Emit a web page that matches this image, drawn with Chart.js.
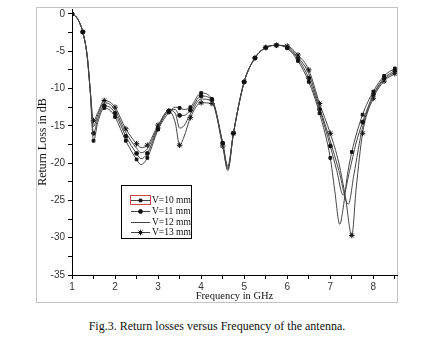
<!DOCTYPE html>
<html>
<head>
<meta charset="utf-8">
<script src="https://cdn.jsdelivr.net/npm/chart.js@4.4.1/dist/chart.umd.min.js"></script>
<style>
  html, body { margin: 0; padding: 0; background: #fff; }
  body { width: 434px; height: 350px; position: relative; overflow: hidden; }
  #frame { position: absolute; left: 36px; top: 7px; width: 360px; height: 294px; border: 1px solid #c4c4c4; }
  #wrap { position: absolute; left: 0; top: 0; width: 434px; height: 304px; }
  #caption { position: absolute; left: 0; top: 319px; width: 434px; text-align: center;
             font: 12px "Liberation Serif", "DejaVu Serif", serif; color: #111; }
</style>
</head>
<body>
<div id="frame"></div>
<div id="wrap"><canvas id="rl-canvas"></canvas></div>
<div id="caption">Fig.3. Return losses versus Frequency of the antenna.</div>
<script>
// Frequency points (GHz) shared by all four sweeps up to 6.75 GHz
const freqHead = [1.0, 1.1, 1.2, 1.25, 1.35, 1.42, 1.5, 1.6, 1.75, 1.9, 2.0, 2.25, 2.5, 2.6, 2.75,
    3.0, 3.25, 3.4, 3.5, 3.6, 3.75, 4.0, 4.25, 4.5, 4.62, 4.75, 5.0, 5.25, 5.5, 5.75, 6.0, 6.25, 6.5, 6.75];

// Return loss (dB) on freqHead
const lossV10Head = [0, -0.4, -1.5, -2.4, -5.5, -10, -17.0, -14.5, -12.6, -13.0, -13.8, -17.0, -19.5, -20.2, -19.3,
    -15.5, -13.2, -12.5, -12.6, -12.8, -12.5, -10.6, -11.4, -17.3, -20.4, -16.0, -9.1, -5.9, -4.5, -4.2, -4.6, -6.3, -9.1, -13.3];
const lossV11Head = [0, -0.4, -1.5, -2.4, -5.5, -10, -16.0, -14.0, -12.3, -12.6, -13.3, -16.4, -18.7, -19.4, -18.7,
    -15.3, -13.0, -12.8, -13.6, -13.6, -12.9, -11.0, -11.5, -17.3, -20.6, -16.0, -9.1, -5.9, -4.5, -4.2, -4.5, -6.0, -8.6, -12.8];
const lossV12Head = [0, -0.4, -1.5, -2.4, -5.5, -10, -15.1, -13.5, -11.9, -12.2, -12.9, -15.9, -18.0, -18.6, -18.1,
    -15.1, -12.9, -13.3, -15.3, -15.0, -13.4, -11.4, -11.7, -17.5, -20.8, -16.0, -9.1, -5.9, -4.5, -4.2, -4.4, -5.8, -8.0, -12.5];
const lossV13Head = [0, -0.4, -1.5, -2.4, -5.5, -10, -14.3, -13.2, -11.6, -11.9, -12.5, -15.4, -17.4, -17.9, -17.6,
    -14.9, -13.0, -14.6, -17.6, -16.5, -13.9, -11.9, -12.0, -17.7, -21.0, -16.0, -9.1, -5.9, -4.5, -4.2, -4.3, -5.5, -7.5, -12.0];

// Upper resonance, each sweep has its own notch
const freqV10Tail = [7.0, 7.1, 7.22, 7.3, 7.4, 7.5, 7.75, 8.0, 8.25, 8.5];
const lossV10Tail = [-19.3, -23.5, -28.2, -26.0, -21.5, -18.5, -13.5, -10.4, -8.3, -7.3];
const freqV11Tail = [7.0, 7.15, 7.3, 7.45, 7.6, 7.75, 8.0, 8.25, 8.5];
const lossV11Tail = [-17.7, -21.0, -24.3, -21.0, -17.3, -14.5, -10.8, -8.6, -7.6];
const freqV12Tail = [7.0, 7.2, 7.42, 7.55, 7.75, 8.0, 8.25, 8.5];
const lossV12Tail = [-17.0, -21.0, -25.5, -21.5, -15.2, -11.0, -8.8, -7.8];
const freqV13Tail = [7.0, 7.2, 7.35, 7.5, 7.6, 7.75, 8.0, 8.25, 8.5];
const lossV13Tail = [-16.0, -20.0, -24.5, -29.7, -23.5, -16.0, -11.3, -9.0, -8.0];

const seriesNames = ['V=10 mm', 'V=11 mm', 'V=12 mm', 'V=13 mm'];
const seriesMarkers = ['rect', 'circle', false, 'star'];

const xTicks = [1, 1.5, 2, 2.5, 3, 3.5, 4, 4.5, 5, 5.5, 6, 6.5, 7, 7.5, 8, 8.5];
const yTicks = [-35, -32.5, -30, -27.5, -25, -22.5, -20, -17.5, -15, -12.5, -10, -7.5, -5, -2.5, 0];

function toPoints(fa, la, fb, lb) {
    const pts = [];
    fa.forEach((f, i) => pts.push({ x: f, y: la[i] }));
    fb.forEach((f, i) => pts.push({ x: f, y: lb[i] }));
    return pts;
}

const seriesData = [
    toPoints(freqHead, lossV10Head, freqV10Tail, lossV10Tail),
    toPoints(freqHead, lossV11Head, freqV11Tail, lossV11Tail),
    toPoints(freqHead, lossV12Head, freqV12Tail, lossV12Tail),
    toPoints(freqHead, lossV13Head, freqV13Tail, lossV13Tail),
];

function markerSize(style) {
    return style === 'star' ? 2.8 : 1.9;
}

// markers only every 0.25 GHz, like the plotted sweep
function markerRadius(style) {
    return ctx => {
        if (!style || !ctx.raw) return 0;
        const q = ctx.raw.x * 4;
        return Math.abs(q - Math.round(q)) < 1e-6 ? markerSize(style) : 0;
    };
}

const datasets = seriesData.map((pts, i) => ({
    label: seriesNames[i],
    data: pts,
    borderColor: '#444',
    borderWidth: 1,
    backgroundColor: '#000',
    pointBackgroundColor: '#111',
    pointBorderColor: '#111',
    pointBorderWidth: 1,
    pointStyle: seriesMarkers[i] || 'circle',
    pointRadius: markerRadius(seriesMarkers[i]),
    cubicInterpolationMode: 'monotone',
    fill: false,
}));

// Boxed legend inside the plot
const boxLegend = {
    id: 'boxLegend',
    afterDraw(chart) {
        const ctx = chart.ctx;
        ctx.save();
        ctx.strokeStyle = '#000';
        ctx.lineWidth = 1;
        ctx.strokeRect(121.5, 185.5, 70, 53);
        ctx.font = '9.5px "Liberation Serif", serif';
        ctx.textBaseline = 'middle';
        for (let i = 0; i < 4; i++) {
            const y = Math.round(200 + i * 10.8) + 0.5;
            ctx.strokeStyle = '#444';
            ctx.beginPath();
            ctx.moveTo(131, y);
            ctx.lineTo(150, y);
            ctx.stroke();
            if (seriesMarkers[i]) {
                ctx.fillStyle = '#111';
                ctx.strokeStyle = '#111';
                Chart.helpers.drawPoint(ctx, {
                    pointStyle: seriesMarkers[i],
                    radius: markerSize(seriesMarkers[i]),
                    rotation: 0,
                    borderWidth: 1,
                }, 140.5, y);
            }
            ctx.fillStyle = '#111';
            ctx.fillText(seriesNames[i], 152, y);
        }
        ctx.strokeStyle = '#c84848';
        ctx.strokeRect(130.5, 195.5, 20, 9);
        ctx.restore();
    }
};

const tickFont = { family: '"Liberation Sans", Arial, sans-serif', size: 10 };

new Chart('rl-canvas', {
    type: 'line',
    data: { datasets: datasets },
    options: {
        responsive: true,
        maintainAspectRatio: false,
        animation: false,
        devicePixelRatio: 1,
        layout: { padding: { left: 36, top: 7, right: 37, bottom: 0 } },
        plugins: { legend: { display: false }, tooltip: { enabled: false } },
        scales: {
            x: {
                type: 'linear',
                min: 1,
                max: 8.55,
                afterFit: s => { s.height = 29; },
                afterBuildTicks: s => { s.ticks = xTicks.map(v => ({ value: v })); },
                ticks: {
                    color: '#333',
                    font: tickFont,
                    padding: 2,
                    maxRotation: 0,
                    autoSkip: false,
                    callback: v => Number.isInteger(v) ? String(v) : '',
                },
                grid: { drawOnChartArea: false, tickLength: 4, tickColor: '#000' },
                border: { color: '#000', width: 1 },
                title: {
                    display: true, text: 'Frequency in GHz', color: '#111',
                    font: { family: '"Liberation Serif", serif', size: 10.5 },
                    padding: { top: 0, bottom: 1.5 },
                },
            },
            y: {
                type: 'linear',
                min: -35,
                max: 0.67,
                afterFit: s => { s.width = 36; },
                afterBuildTicks: s => { s.ticks = yTicks.map(v => ({ value: v })); },
                ticks: {
                    color: '#333',
                    font: tickFont,
                    padding: 3,
                    autoSkip: false,
                    callback: v => v % 5 === 0 ? String(v) : '',
                },
                grid: { drawOnChartArea: false, tickLength: 4, tickColor: '#000' },
                border: { color: '#000', width: 1 },
                title: {
                    display: true, text: 'Return Loss in dB', color: '#111',
                    font: { family: '"Liberation Serif", serif', size: 12 },
                    padding: { top: 0, bottom: 0 },
                },
            },
        },
    },
    plugins: [boxLegend],
});
</script>
</body>
</html>
